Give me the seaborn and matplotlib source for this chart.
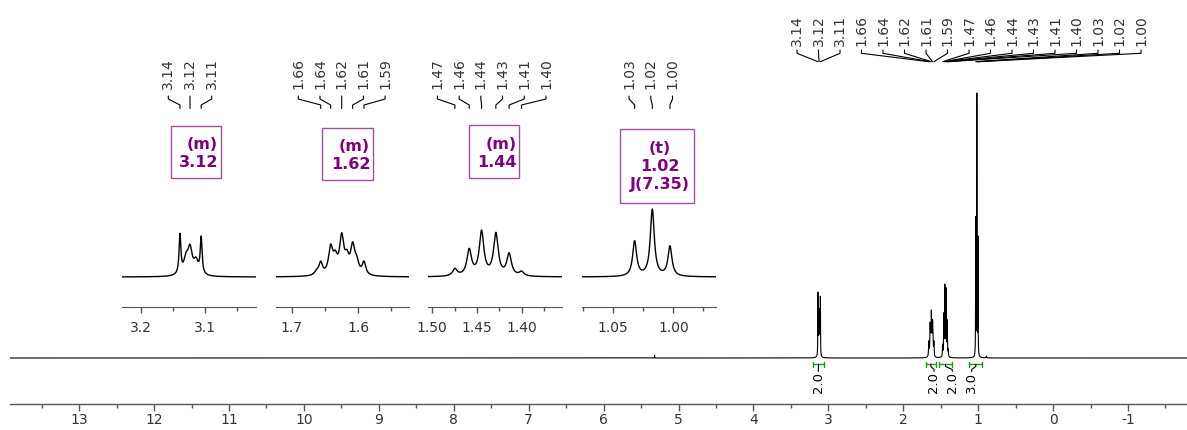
import numpy as np
import matplotlib
matplotlib.use("Agg")
import matplotlib.pyplot as plt
from matplotlib.patches import Rectangle
import seaborn as sns

# ------------------------------------------------------------------ data
# multiplet summary
mult_centers = [3.12, 1.62, 1.44, 1.02]
mult_types = ["m", "m", "m", "t"]
mult_J = [None, None, None, 7.35]

# resolved lines of each multiplet (ppm, height read from the expansions, half width)
m1_ppm = [3.1391, 3.1297, 3.1234, 3.1140, 3.1060]
m1_int = [43.7, 25.0, 32.7, 20.0, 41.0]
m1_hw = [0.0017, 0.0042, 0.0042, 0.0042, 0.0017]

m2_ppm = [1.6624, 1.6564, 1.6414, 1.6345, 1.6248, 1.6170, 1.6083, 1.6023, 1.5913]
m2_int = [8.0, 16.0, 33.0, 27.0, 44.3, 27.5, 35.3, 22.0, 16.0]
m2_hw = [0.0038, 0.0032, 0.0038, 0.0038, 0.0038, 0.0038, 0.0038, 0.0038, 0.0032]

m3_ppm = [1.4747, 1.4587, 1.4449, 1.4289, 1.4141, 1.4002]
m3_int = [8.7, 28.7, 47.0, 44.7, 24.3, 6.0]
m3_hw = [0.0031, 0.0031, 0.0031, 0.0031, 0.0031, 0.0031]

m4_ppm = [1.0322, 1.0175, 1.0028]
m4_int = [36.3, 68.0, 31.3]
m4_hw = [0.0020, 0.0020, 0.0020]

# relative heights of the multiplets in the full spectrum (tallest = 100)
main_rel = [24.9, 18.1, 27.9, 100.0]
impurity_ppm = [5.32, 0.89]
impurity_rel = [1.1, 0.7]
impurity_hw = [0.0015, 0.004]

# picked peaks
pick_ppm = [[3.1391, 3.1234, 3.1060],
            [1.6564, 1.6414, 1.6248, 1.6083, 1.5913],
            [1.4747, 1.4587, 1.4449, 1.4289, 1.4141, 1.4002],
            [1.0322, 1.0175, 1.0028]]
pick_lbl = [["3.14", "3.12", "3.11"],
            ["1.66", "1.64", "1.62", "1.61", "1.59"],
            ["1.47", "1.46", "1.44", "1.43", "1.41", "1.40"],
            ["1.03", "1.02", "1.00"]]

# integrals
int_from = [3.209, 1.698, 1.520, 1.120]
int_to = [3.053, 1.564, 1.351, 0.943]
int_lbl = ["2.0", "2.0", "2.0", "3.0"]

# axes ticks
main_ticks = [13, 12, 11, 10, 9, 8, 7, 6, 5, 4, 3, 2, 1, 0, -1]
main_tick_lbl = ["13", "12", "11", "10", "9", "8", "7", "6", "5", "4", "3", "2", "1", "0", "-1"]
main_minor = [13.5, 12.5, 11.5, 10.5, 9.5, 8.5, 7.5, 6.5, 5.5, 4.5, 3.5, 2.5, 1.5, 0.5, -0.5, -1.5]

inset_xlim = [(3.2297, 3.0203), (1.7236, 1.5236), (1.5048, 1.3546), (1.0763, 0.9647)]
inset_major = [[3.2, 3.1], [1.7, 1.6], [1.50, 1.45, 1.40], [1.05, 1.00]]
inset_major_lbl = [["3.2", "3.1"], ["1.7", "1.6"], ["1.50", "1.45", "1.40"], ["1.05", "1.00"]]
inset_minor = [[3.15, 3.05], [1.65, 1.55], [1.475, 1.425, 1.375], [1.075, 1.025, 0.975]]

multiplets = [(m1_ppm, m1_int, m1_hw), (m2_ppm, m2_int, m2_hw),
              (m3_ppm, m3_int, m3_hw), (m4_ppm, m4_int, m4_hw)]

# ------------------------------------------------------------------ helpers
def lorentz(x, x0, w):
    return w ** 2 / (w ** 2 + (x - x0) ** 2)


def multiplet_curve(x, ppm, hts, hw):
    ppm = np.asarray(ppm); hts = np.asarray(hts); hw = np.asarray(hw)
    M = lorentz(ppm[:, None], ppm[None, :], hw[None, :])
    amp = np.clip(np.linalg.solve(M, hts), 0, None)
    x = np.asarray(x)
    return (amp[None, :] * lorentz(x[:, None], ppm[None, :], hw[None, :])).sum(axis=1)


# ------------------------------------------------------------------ figure
sns.set_style("white")
plt.rcParams["font.family"] = ["DejaVu Sans"]
plt.rcParams["axes.unicode_minus"] = False

W, H = 1187, 430
fig = plt.figure(figsize=(W / 100, H / 100), dpi=100)


def rect(l, t, r, b):
    return [l / W, 1 - b / H, (r - l) / W, (b - t) / H]


# main spectrum -------------------------------------------------------
ax = fig.add_axes(rect(10, 20, 1187, 404))
xlo, xhi = 13.924, -1.788
x_main = np.linspace(xlo, xhi, 90001)
y_main = np.zeros_like(x_main)
for (ppm, hts, hw), rel in zip(multiplets, main_rel):
    fine = np.linspace(min(ppm) - 0.02, max(ppm) + 0.02, 20001)
    norm = multiplet_curve(fine, ppm, hts, hw).max()
    y_main += multiplet_curve(x_main, ppm, hts, hw) / norm * rel
for p, r, w in zip(impurity_ppm, impurity_rel, impurity_hw):
    y_main += r * lorentz(x_main, p, w)
px_per_rel = 2.65
sns.lineplot(x=x_main, y=y_main * px_per_rel, ax=ax, color="black", lw=0.8,
             estimator=None, sort=False, legend=False)
ax.set_xlim(xlo, xhi)
ax.set_ylim(-46, 338)
ax.set_xlabel(""); ax.set_ylabel("")
for s in ["top", "right", "left"]:
    ax.spines[s].set_visible(False)
ax.spines["bottom"].set_color("#555555")
ax.spines["bottom"].set_linewidth(1.0)
ax.set_yticks([])
ax.set_xticks(main_ticks)
ax.set_xticklabels(main_tick_lbl)
ax.set_xticks(main_minor, minor=True)
ax.tick_params(axis="x", which="both", bottom=True)
ax.tick_params(axis="x", which="major", length=5, width=1, color="#555555",
               labelsize=10, labelcolor="#333333", pad=1.5)
ax.tick_params(axis="x", which="minor", length=3, width=1, color="#555555")
ax.patch.set_alpha(0)

# insets -----------------------------------------------------------------
inset_px = [(122, 256), (276, 409), (428, 562.3), (581.7, 715.7)]
insets = []
for i, (ppm, hts, hw) in enumerate(multiplets):
    l, r = inset_px[i]
    iax = fig.add_axes(rect(l, 200, r, 306.7))
    xs = np.linspace(inset_xlim[i][0], inset_xlim[i][1], 5000)
    ys = multiplet_curve(xs, ppm, hts, hw)
    sns.lineplot(x=xs, y=ys, ax=iax, color="black", lw=1.0,
                 estimator=None, sort=False, legend=False)
    iax.set_xlim(*inset_xlim[i])
    iax.set_ylim(-29.7, 77)
    iax.set_xlabel(""); iax.set_ylabel("")
    for s in ["top", "right", "left"]:
        iax.spines[s].set_visible(False)
    iax.spines["bottom"].set_color("#555555")
    iax.set_yticks([])
    iax.set_xticks(inset_major[i])
    iax.set_xticklabels(inset_major_lbl[i])
    iax.set_xticks(inset_minor[i], minor=True)
    iax.tick_params(axis="x", which="both", bottom=True)
    iax.tick_params(axis="x", which="major", length=4.5, width=1, color="#555555",
                    labelsize=10, labelcolor="#333333", pad=6)
    iax.tick_params(axis="x", which="minor", length=3, width=1, color="#555555")
    iax.patch.set_alpha(0)
    insets.append(iax)

# overlay in pixel coordinates -----------------------------------------
ov = fig.add_axes([0, 0, 1, 1], zorder=10)
ov.set_xlim(0, W)
ov.set_ylim(H, 0)
ov.axis("off")
ov.patch.set_alpha(0)


def px_x(a, ppm):
    return a.transData.transform((ppm, 0))[0]


lab_kw = dict(rotation=90, ha="center", va="bottom", fontsize=10, color="#333333")

# peak labels over the full spectrum
all_picks = [p for grp in pick_ppm for p in grp]
all_lbls = [s for grp in pick_lbl for s in grp]
x0, dx = 797.0, 21.5
for k, (p, s) in enumerate(zip(all_picks, all_lbls)):
    lx = x0 + k * dx
    px = px_x(ax, p)
    ov.text(lx, 46, s, **lab_kw)
    ov.plot([lx, lx, px], [50, 53.3, 61.7], color="black", lw=0.8)

# peak labels over the insets
inset_lab_center = [190.0, 341.7, 491.7, 650.8]
for i, iax in enumerate(insets):
    n = len(pick_ppm[i])
    for k, (p, s) in enumerate(zip(pick_ppm[i], pick_lbl[i])):
        lx = inset_lab_center[i] + (k - (n - 1) / 2) * 21.7
        px = px_x(iax, p)
        ov.text(lx, 89, s, **lab_kw)
        ov.plot([lx, lx, px, px], [96, 99, 105, 108.5], color="black", lw=0.8)

# multiplet boxes
box_px = [(171, 125.7, 220.7, 178), (322, 127.7, 372.7, 180),
          (469.3, 125.3, 519.3, 178.3), (620, 129.3, 694.3, 203.3)]
purple = "#800080"
for (l, t, r, b), c, m, J in zip(box_px, mult_centers, mult_types, mult_J):
    ov.add_patch(Rectangle((l, t), r - l, b - t, fill=True, facecolor="white",
                           edgecolor="#a050a0", lw=1.0, zorder=3))
    txt = f"({m})\n{c:.2f}"
    if J is not None:
        txt += f"\nJ({J:.2f})"
        ov.text((l + r) / 2 + 3, (t + b) / 2, txt, ha="center", va="center",
                multialignment="center", fontsize=11.5, fontweight="bold",
                color=purple, linespacing=1.25, zorder=4)
    else:
        ov.text(r - 2.5, (t + b) / 2 + 1.5, txt, ha="right", va="center",
                multialignment="right", fontsize=11.5, fontweight="bold",
                color=purple, linespacing=1.25, zorder=4)

# integrals
green = "#1a9a1a"
int_label_x = [818.3, 934.0, 952.3, 971.7]
yb = 364.3
for a0, a1, s, lx in zip(int_from, int_to, int_lbl, int_label_x):
    p0, p1 = px_x(ax, a0), px_x(ax, a1)
    ov.plot([p0, p1], [yb, yb], color=green, lw=1.0)
    ov.plot([p0, p0], [yb - 2.6, yb + 2.6], color=green, lw=1.0)
    ov.plot([p1, p1], [yb - 2.6, yb + 2.6], color=green, lw=1.0)
    cx = (p0 + p1) / 2
    ov.plot([cx, cx, lx, lx], [yb, 366.5, 369.5, 371.5], color="black", lw=0.8)
    ov.text(lx, 372, s, rotation=90, ha="center", va="top", fontsize=9.5, color="black")

fig.savefig("out.png", dpi=100)
